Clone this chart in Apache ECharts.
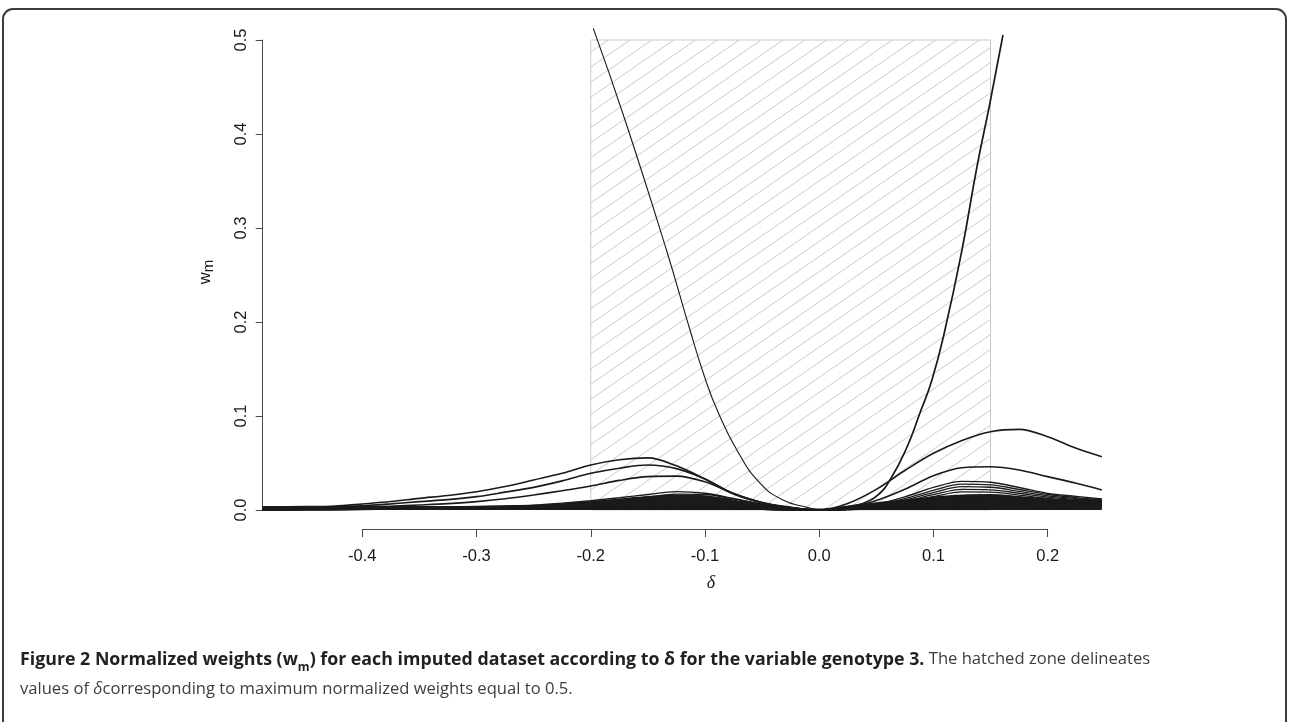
<!DOCTYPE html>
<html><head><meta charset="utf-8">
<script src="https://cdn.jsdelivr.net/npm/echarts@6/dist/echarts.min.js"></script>
<style>html,body{margin:0;padding:0;background:#fff;}#c{width:1289px;height:722px;}</style>
</head><body><div id="c"></div>
<script>
// ---- data ----
const delta = [-0.4875, -0.45, -0.425, -0.4, -0.375, -0.35, -0.325, -0.3, -0.275, -0.25, -0.225, -0.2, -0.175, -0.15, -0.125, -0.1, -0.075, -0.05, -0.025, 0, 0.025, 0.05, 0.075, 0.1, 0.125, 0.15, 0.175, 0.2, 0.225, 0.2475];
const wC1 = [0.0012, 0.0025, 0.004, 0.0064, 0.009, 0.0124, 0.0155, 0.0195, 0.025, 0.0319, 0.039, 0.0479, 0.0535, 0.0555, 0.047, 0.033, 0.0175, 0.008, 0.003, 0, 0.0008, 0.002, 0.0035, 0.005, 0.0062, 0.0066, 0.0064, 0.006, 0.0056, 0.0052];
const wC2 = [0.001, 0.002, 0.003, 0.0046, 0.0065, 0.0089, 0.011, 0.0142, 0.019, 0.0241, 0.031, 0.039, 0.0445, 0.0478, 0.044, 0.033, 0.017, 0.0075, 0.0025, 0, 0.0006, 0.0018, 0.003, 0.0042, 0.005, 0.0052, 0.005, 0.0047, 0.0044, 0.004];
const wC3 = [0.0008, 0.0012, 0.002, 0.003, 0.004, 0.0053, 0.0068, 0.0089, 0.012, 0.016, 0.0205, 0.0255, 0.0315, 0.0355, 0.036, 0.03, 0.0175, 0.008, 0.0025, 0, 0.0005, 0.0015, 0.0025, 0.0035, 0.004, 0.0042, 0.004, 0.0038, 0.0035, 0.0032];
const wC4 = [0.0006, 0.0009, 0.0012, 0.0016, 0.002, 0.0025, 0.003, 0.0036, 0.0043, 0.0052, 0.0073, 0.0099, 0.013, 0.0165, 0.0195, 0.0178, 0.0122, 0.006, 0.0018, 0, 0.0005, 0.0015, 0.003, 0.004, 0.0048, 0.005, 0.0048, 0.0045, 0.0042, 0.004];
const wC5 = [0.0005, 0.0008, 0.001, 0.0013, 0.0016, 0.002, 0.0024, 0.0028, 0.0034, 0.0042, 0.0058, 0.0078, 0.0105, 0.0138, 0.0168, 0.0165, 0.0118, 0.006, 0.0018, 0, 0.001, 0.004, 0.008, 0.0115, 0.0135, 0.0135, 0.0118, 0.0098, 0.0085, 0.0078];
const wR1 = [0.0004, 0.0006, 0.0008, 0.001, 0.0012, 0.0014, 0.0016, 0.0018, 0.002, 0.0023, 0.0027, 0.003, 0.0034, 0.0036, 0.0035, 0.003, 0.002, 0.001, 0.0003, 0, 0.007, 0.022, 0.042, 0.0603, 0.074, 0.0833, 0.0858, 0.078, 0.0656, 0.0567];
const wR2 = [0.0003, 0.0005, 0.0007, 0.0009, 0.0011, 0.0013, 0.0015, 0.0017, 0.0019, 0.0022, 0.0025, 0.0028, 0.0031, 0.0033, 0.0032, 0.0028, 0.0019, 0.0009, 0.0003, 0, 0.002, 0.01, 0.022, 0.0365, 0.045, 0.046, 0.0426, 0.0355, 0.0284, 0.0213];
const wR3 = [0.0003, 0.0004, 0.0006, 0.0008, 0.001, 0.0012, 0.0014, 0.0016, 0.0018, 0.002, 0.0023, 0.0026, 0.0029, 0.0031, 0.003, 0.0026, 0.0018, 0.0009, 0.0003, 0, 0.001, 0.006, 0.014, 0.024, 0.0305, 0.0295, 0.024, 0.0177, 0.0145, 0.0117];
const wR4 = [0.0003, 0.0004, 0.0005, 0.0007, 0.0009, 0.0011, 0.0013, 0.0015, 0.0017, 0.0019, 0.0022, 0.0025, 0.0028, 0.003, 0.0029, 0.0025, 0.0017, 0.0008, 0.0003, 0, 0.001, 0.005, 0.012, 0.021, 0.0275, 0.0268, 0.0218, 0.0165, 0.0132, 0.0108];
const wR5 = [0.0002, 0.0003, 0.0005, 0.0006, 0.0008, 0.001, 0.0012, 0.0014, 0.0016, 0.0018, 0.0021, 0.0024, 0.0027, 0.0029, 0.0028, 0.0024, 0.0016, 0.0008, 0.0002, 0, 0.0008, 0.004, 0.0105, 0.0185, 0.0248, 0.0242, 0.0198, 0.015, 0.0122, 0.0101];
const wR6 = [0.0002, 0.0003, 0.0004, 0.0006, 0.0007, 0.0009, 0.0011, 0.0013, 0.0015, 0.0017, 0.002, 0.0023, 0.0026, 0.0028, 0.0027, 0.0023, 0.0015, 0.0007, 0.0002, 0, 0.0007, 0.0035, 0.0092, 0.0163, 0.022, 0.0215, 0.0178, 0.0137, 0.0112, 0.0095];
const wR7 = [0.0002, 0.0003, 0.0004, 0.0005, 0.0007, 0.0008, 0.001, 0.0012, 0.0014, 0.0016, 0.0019, 0.0022, 0.0025, 0.0027, 0.0026, 0.0022, 0.0014, 0.0007, 0.0002, 0, 0.0006, 0.003, 0.008, 0.0142, 0.0192, 0.019, 0.0158, 0.0124, 0.0103, 0.009];
const wBand = [0.0035, 0.0036, 0.0036, 0.0037, 0.0036, 0.0035, 0.0035, 0.0036, 0.004, 0.0048, 0.0065, 0.0089, 0.0115, 0.014, 0.0158, 0.0148, 0.0105, 0.005, 0.0018, 0.0008, 0.004, 0.0075, 0.0105, 0.0135, 0.0158, 0.0162, 0.0142, 0.0115, 0.0098, 0.0088];
const steepLeftDelta = [-0.1978, -0.170, -0.1332, -0.1131, -0.1000, -0.0886, -0.0711, -0.0518, -0.0317, -0.0116, 0];
const steepLeftW = [0.5124, 0.4149, 0.2745, 0.1915, 0.1404, 0.1043, 0.0617, 0.0287, 0.0106, 0.0032, 0];
const steepRightDelta = [0, 0.0182, 0.0331, 0.0418, 0.0515, 0.062, 0.0769, 0.0882, 0.0987, 0.1101, 0.125, 0.1381, 0.1495, 0.1609];
const steepRightW = [0, 0.0021, 0.0053, 0.0088, 0.016, 0.0319, 0.067, 0.1032, 0.1383, 0.1915, 0.2766, 0.3649, 0.433, 0.5053];
const hatchDelta = [-0.2, 0.15];
const hatchW = [0, 0.5];
const xTicks = [-0.4, -0.3, -0.2, -0.1, 0, 0.1, 0.2];
const yTicks = [0, 0.1, 0.2, 0.3, 0.4, 0.5];

// ---- chart ----
const chart = echarts.init(document.getElementById('c'), null, {renderer: 'canvas'});
const INK = '#1a1a1a';
const AX = '#4a4a4a';
const tickFont = 'Liberation Sans';

function pairs(xs, ys) { return xs.map((x, i) => [x, ys[i]]); }

function renderHatch(params, api) {
  const tl = api.coord([api.value(0), api.value(3)]);
  const br = api.coord([api.value(1), api.value(2)]);
  const L = tl[0], T = tl[1], R = br[0], B = br[1];
  const m = 0.691, s = 15.1;
  const children = [];
  for (let c = T + 12; c < B + m * (R - L); c += s) {
    const xs = Math.max(L, L + (c - B) / m);
    const xe = Math.min(R, L + (c - T) / m);
    if (xe > xs) {
      children.push({type: 'line', shape: {x1: xs, y1: c - m * (xs - L), x2: xe, y2: c - m * (xe - L)},
        style: {stroke: '#cbcbcb', lineWidth: 1}});
    }
  }
  children.push({type: 'rect', shape: {x: L, y: T, width: R - L, height: B - T},
    style: {fill: null, stroke: '#cbcbcb', lineWidth: 1}});
  return {type: 'group', children: children};
}

function curve(ys, width) {
  return {type: 'line', xAxisIndex: 0, yAxisIndex: 0, data: pairs(delta, ys), smooth: 0.35,
    showSymbol: false, symbol: 'none', lineStyle: {color: INK, width: width || 1.5}, z: 3, silent: true};
}

const series = [
  {type: 'custom', xAxisIndex: 0, yAxisIndex: 0, renderItem: renderHatch, z: 1, silent: true,
    data: [[hatchDelta[0], hatchDelta[1], hatchW[0], hatchW[1]]]},
  {type: 'line', xAxisIndex: 0, yAxisIndex: 0, data: pairs(delta, wBand), smooth: 0.35, showSymbol: false, symbol: 'none',
    lineStyle: {color: INK, width: 1.5}, areaStyle: {color: INK, opacity: 1}, z: 3, silent: true},
  curve(wR7, 1.3), curve(wR6, 1.3), curve(wR5, 1.3), curve(wR4, 1.3), curve(wR3, 1.4),
  curve(wR2, 1.6), curve(wR1, 1.6),
  curve(wC5, 1.3), curve(wC4, 1.4), curve(wC3, 1.6), curve(wC2, 1.6), curve(wC1, 1.6),
  {type: 'line', xAxisIndex: 0, yAxisIndex: 0, data: pairs(steepLeftDelta, steepLeftW), smooth: 0.5, showSymbol: false, symbol: 'none',
    lineStyle: {color: INK, width: 1.1}, z: 4, silent: true},
  {type: 'line', xAxisIndex: 0, yAxisIndex: 0, data: pairs(steepRightDelta, steepRightW), smooth: 0.5, showSymbol: false, symbol: 'none',
    lineStyle: {color: INK, width: 1.7}, z: 4, silent: true}
];

const capB = {fontFamily: 'Open Sans', fontWeight: 'bold', fontSize: 17.8, fill: '#231f20', lineHeight: 22, verticalAlign: 'top'};
const capR = {fontFamily: 'Open Sans', fontWeight: 'normal', fontSize: 16.6, fill: '#3d3d3d', lineHeight: 22, verticalAlign: 'top'};

const option = {
  backgroundColor: '#ffffff',
  animation: false,
  grid: [
    {left: 262.7, top: 15, width: 896.3, height: 514},
    {left: 362.3, top: 519, width: 685.4, height: 10},
    {left: 262.7, top: 40, width: 10, height: 470}
  ],
  xAxis: [
    {gridIndex: 0, type: 'value', min: -0.4872, max: 0.2975, axisLine: {show: false}, axisTick: {show: false},
      axisLabel: {show: false}, splitLine: {show: false},
      name: 'δ', nameLocation: 'middle', nameGap: 45,
      nameTextStyle: {fontFamily: 'Liberation Serif', fontStyle: 'italic', fontSize: 18, color: INK}},
    {gridIndex: 1, type: 'value', position: 'bottom', min: xTicks[0], max: xTicks[xTicks.length - 1], interval: 0.1,
      axisLine: {show: true, onZero: false, lineStyle: {color: AX, width: 1}},
      axisTick: {show: true, length: 8, lineStyle: {color: AX, width: 1}},
      axisLabel: {show: true, margin: 19, fontFamily: tickFont, fontSize: 16.5, color: INK, showMinLabel: true, showMaxLabel: true,
        formatter: v => v.toFixed(1)},
      splitLine: {show: false}},
    {gridIndex: 2, type: 'value', show: false, min: 0, max: 1}
  ],
  yAxis: [
    {gridIndex: 0, type: 'value', min: -0.020213, max: 0.5266, axisLine: {show: false}, axisTick: {show: false},
      axisLabel: {show: false}, splitLine: {show: false},
      name: '{a|w}{b|m}', nameLocation: 'middle', nameGap: 46,
      nameTextStyle: {rich: {
        a: {fontFamily: tickFont, fontSize: 16.5, color: INK, lineHeight: 20, verticalAlign: 'top'},
        b: {fontFamily: tickFont, fontSize: 15, color: INK, lineHeight: 20, verticalAlign: 'bottom'}}}},
    {gridIndex: 1, type: 'value', show: false, min: 0, max: 1},
    {gridIndex: 2, type: 'value', position: 'left', min: yTicks[0], max: yTicks[yTicks.length - 1], interval: 0.1,
      axisLine: {show: true, onZero: false, lineStyle: {color: AX, width: 1}},
      axisTick: {show: true, length: 7, lineStyle: {color: AX, width: 1}},
      axisLabel: {show: true, rotate: 90, margin: 13, fontFamily: tickFont, fontSize: 16.5, color: INK,
        showMinLabel: true, showMaxLabel: true, formatter: v => v.toFixed(1)},
      splitLine: {show: false}}
  ],
  series: series,
  graphic: [
    {type: 'rect', silent: true, shape: {x: 3, y: 9, width: 1283, height: 722, r: 10},
      style: {fill: null, stroke: '#3c3c3c', lineWidth: 2}},
    {type: 'text', silent: true, x: 20, y: 651, style: {
      text: '{b|Figure 2 Normalized weights (w}{bs|m}{b|) for each imputed dataset according to δ for the variable genotype 3.}{r| The hatched zone delineates}',
      verticalAlign: 'top',
      rich: {b: capB, r: capR,
        bs: {fontFamily: 'Open Sans', fontWeight: 'bold', fontSize: 12, fill: '#231f20', lineHeight: 23, verticalAlign: 'bottom'}}}},
    {type: 'text', silent: true, x: 20, y: 681, style: {
      text: '{r|values of }{ri|δ}{r|corresponding to maximum normalized weights equal to 0.5.}',
      verticalAlign: 'top',
      rich: {r: capR, ri: Object.assign({}, capR, {fontStyle: 'italic'})}}}
  ]
};
chart.setOption(option);
</script>
</body></html>
